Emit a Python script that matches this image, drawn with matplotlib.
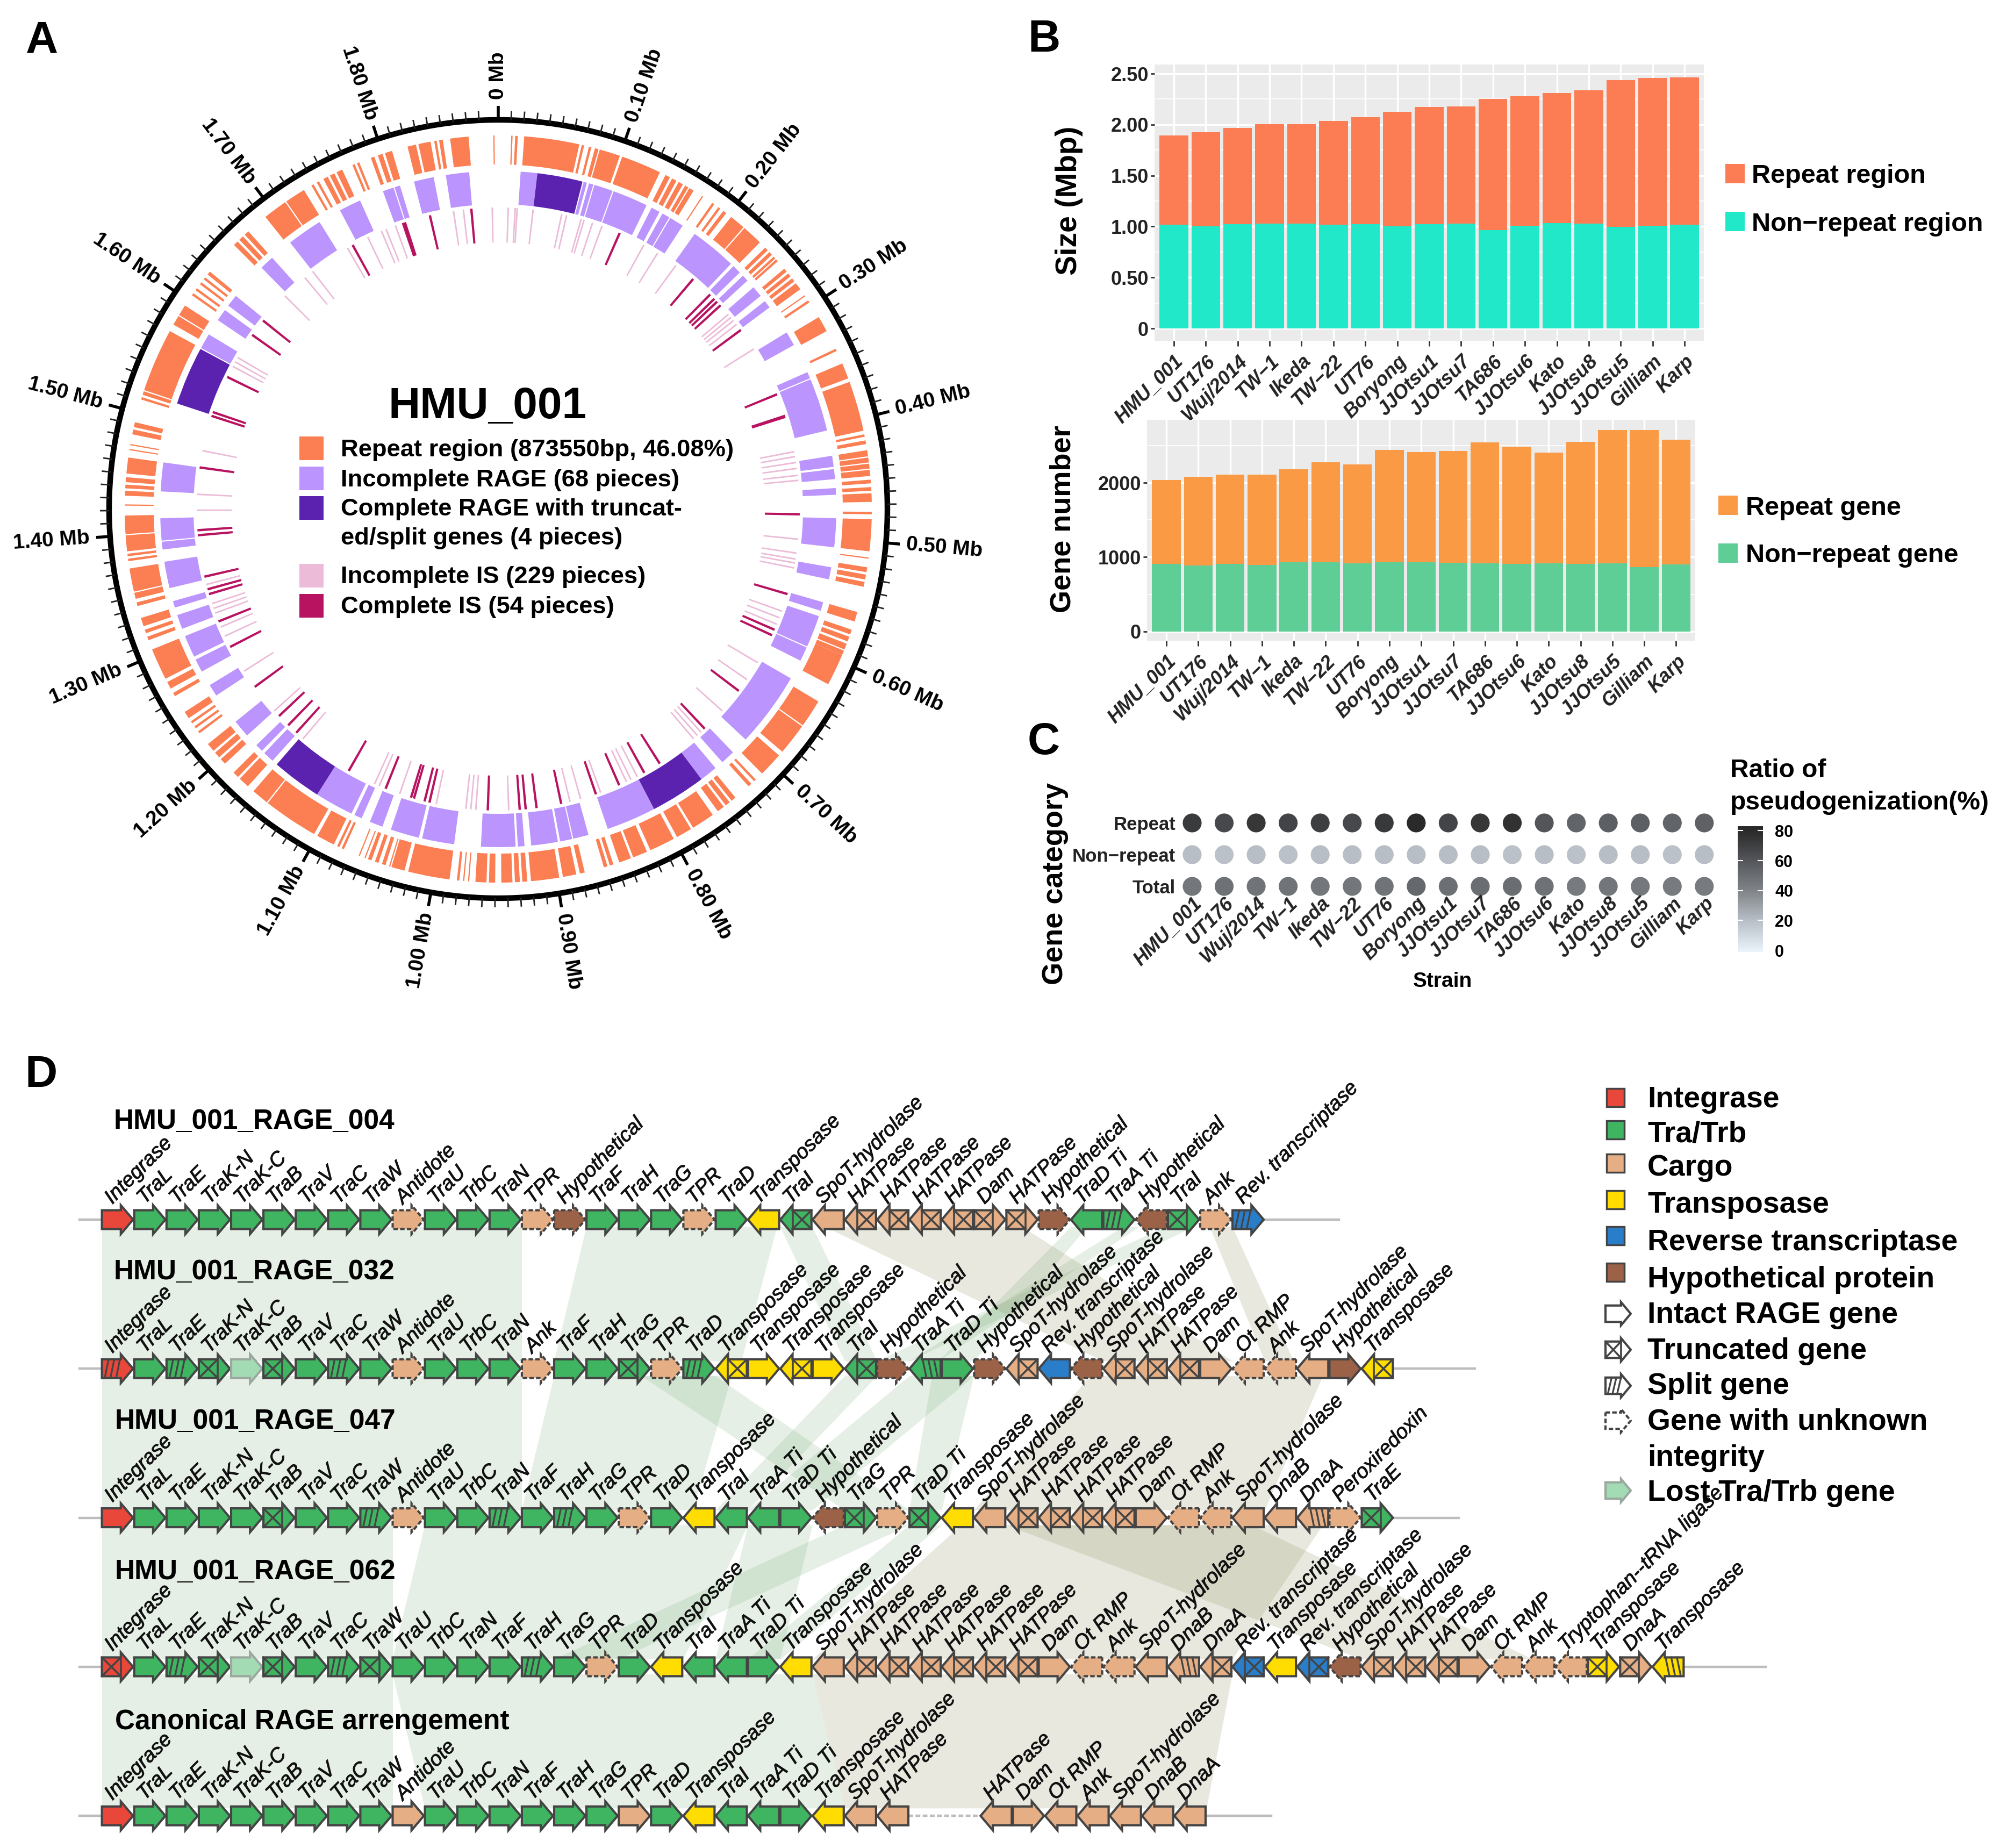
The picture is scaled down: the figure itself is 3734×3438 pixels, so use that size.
import numpy as np
import matplotlib
matplotlib.use("Agg")
import matplotlib.pyplot as plt
import matplotlib.patheffects as pe
from matplotlib.patches import Polygon, Rectangle
from matplotlib.colors import LinearSegmentedColormap, Normalize
from matplotlib.cm import ScalarMappable

plt.rcParams['font.family'] = ['Liberation Sans', 'DejaVu Sans']

W, H = 3734, 3438

# ---------- Panel A data (Mb) ----------
genome_mb = 1.895
repeat_blocks = [(.0105,.0116),(.0137,.0158),(.021,.066),(.068,.070),(.074,.076),(.079,.082),(.083,.100),(.102,.135),
 (.140,.144),(.146,.150),(.152,.156),(.158,.161),(.162,.166),(.174,.175),(.184,.186),(.190,.192),(.195,.198),
 (.203,.216),(.217,.234),(.240,.243),(.245,.248),(.250,.252),(.253,.255),(.263,.266),(.268,.271),(.273,.276),(.278,.284),
 (.290,.291),(.295,.297),(.311,.324),(.340,.342),(.353,.366),(.369,.410),(.413,.415),(.418,.421),(.426,.431),(.432,.436),
 (.437,.441),(.442,.447),(.450,.453),(.456,.459),(.461,.468),(.476,.478),(.482,.508),(.513,.514),(.521,.525),(.527,.531),
 (.533,.537),(.558,.566),(.573,.577),(.579,.583),(.585,.590),(.591,.595),(.595,.621),(.637,.660),(.661,.687),(.691,.711),
 (.718,.720),(.723,.726),(.740,.744),(.746,.750),(.752,.758),(.763,.782),(.784,.797),(.800,.821),(.824,.836),(.838,.848),
 (.853,.856),(.858,.861),(.877,.881),(.884,.895),(.898,.921),(.924,.928),(.930,.934),(.936,.945),(.950,.955),(.957,.966),
 (.971,.972),(.975,.976),(.979,.981),(.987,1.021),(1.024,1.035),(1.036,1.037),(1.040,1.043),(1.046,1.049),(1.052,1.055),
 (1.057,1.058),(1.062,1.063),(1.076,1.078),(1.080,1.082),(1.085,1.100),(1.103,1.148),(1.149,1.163),(1.169,1.178),(1.180,1.185),
 (1.195,1.200),(1.202,1.207),(1.209,1.216),(1.227,1.229),(1.232,1.234),(1.237,1.239),(1.242,1.248),(1.263,1.266),(1.270,1.276),
 (1.279,1.305),(1.313,1.316),(1.319,1.322),(1.325,1.332),(1.342,1.345),(1.348,1.353),(1.354,1.373),(1.379,1.381),(1.383,1.385),
 (1.387,1.400),(1.401,1.416),(1.424,1.425),(1.432,1.436),(1.438,1.441),(1.443,1.447),(1.450,1.463),(1.469,1.470),(1.473,1.474),
 (1.482,1.486),(1.488,1.492),(1.511,1.513),(1.515,1.518),(1.519,1.571),(1.577,1.585),(1.586,1.595),(1.605,1.607),(1.610,1.612),
 (1.616,1.618),(1.621,1.623),(1.626,1.629),(1.658,1.662),(1.664,1.668),(1.670,1.674),(1.692,1.712),(1.713,1.730),(1.737,1.739),
 (1.742,1.744),(1.748,1.752),(1.754,1.758),(1.760,1.765),(1.774,1.776),(1.778,1.780),(1.790,1.793),(1.796,1.800),(1.802,1.808),
 (1.821,1.828),(1.830,1.840),(1.843,1.845),(1.847,1.850),(1.856,1.871),(1.891,1.892)]
rage_incomplete = [(.020,.035),(.077,.080),(.082,.086),(.087,.104),(.105,.137),(.142,.150),(.153,.160),(.161,.174),(.187,.229),
 (.232,.240),(.244,.250),(.258,.268),(.274,.281),(.308,.321),(.348,.354),(.355,.403),(.426,.436),(.438,.447),(.455,.461),
 (.482,.508),(.526,.537),(.558,.566),(.571,.600),(.601,.614),(.632,.700),(.716,.729),(.737,.753),(.803,.848),(.866,.880),
 (.881,.892),(.894,.918),(.924,.930),(.932,.963),(.987,1.016),(1.019,1.045),(1.053,1.065),(1.073,1.080),(1.083,1.118),
 (1.168,1.178),(1.181,1.188),(1.200,1.216),(1.245,1.256),(1.270,1.282),(1.285,1.305),(1.312,1.325),(1.332,1.338),(1.350,1.374),
 (1.385,1.392),(1.393,1.413),(1.437,1.463),(1.571,1.585),(1.600,1.611),(1.616,1.627),(1.661,1.674),(1.695,1.727),(1.748,1.768),
 (1.790,1.800),(1.801,1.806),(1.819,1.837),(1.848,1.869)]
rage_complete = [(.035,.076),(.753,.803),(1.118,1.163),(1.517,1.570)]
is_incomplete = [1.889,.010,.017,.019,.035,.064,.069,.084,.087,.096,.106,.152,.168,.190,.262,.266,.270,.275,.305,.416,.421,.427,.433,
 .440,.445,.504,.518,.524,.528,.533,.578,.585,.592,.635,.655,.695,.725,.730,.735,.803,.810,.815,.843,.864,.875,.937,.970,.975,.980,
 1.010,1.048,1.070,1.075,1.160,1.200,1.250,1.290,1.300,1.315,1.320,1.325,1.345,1.420,1.436,1.480,1.570,1.575,1.580,1.658,1.685,
 1.695,1.737,1.760,1.775,1.780,1.790,1.850,1.860]
is_complete = [.125,.212,.235,.241,.245,.250,.282,.356,.379,.380,.479,.560,.598,.604,.669,.720,.777,.795,.823,.848,.884,.909,.920,.926,
 .958,1.017,1.022,1.033,1.036,1.063,1.104,1.169,1.180,1.193,1.231,1.278,1.306,1.335,1.340,1.353,1.395,1.400,1.463,1.516,1.520,
 1.558,1.607,1.625,1.743,1.798,1.800,1.826,1.868]

# ---------- Panels B, C data ----------
strains = ['HMU_001','UT176','Wuj/2014','TW−1','Ikeda','TW−22','UT76','Boryong','JJOtsu1','JJOtsu7','TA686','JJOtsu6','Kato','JJOtsu8','JJOtsu5','Gilliam','Karp']
size_nonrepeat = [1.018,1.00,1.023,1.027,1.031,1.018,1.023,1.00,1.023,1.027,.966,1.01,1.036,1.027,.997,1.01,1.018]
size_total = [1.892,1.923,1.967,2.002,2.002,2.037,2.072,2.124,2.172,2.177,2.251,2.277,2.312,2.338,2.439,2.456,2.465]
gene_nonrepeat = [910,886,910,898,928,934,916,928,928,922,916,910,916,910,916,868,904]
gene_total = [2036,2078,2108,2108,2180,2275,2246,2437,2413,2425,2539,2485,2407,2551,2707,2707,2575]
pseudo_repeat = [72,66,74,68,70,66,73,80,68,74,76,60,54,56,56,54,55]
pseudo_nonrepeat = [20,19,20,19,20,20,20,20,20,20,19,20,19,20,20,19,20]
pseudo_total = [46,48,47,47,46,46,47,52,49,50,50,48,44,46,45,44,44]

# ---------- Panel D data ----------
row_titles = ['HMU_001_RAGE_004','HMU_001_RAGE_032','HMU_001_RAGE_047','HMU_001_RAGE_062','Canonical RAGE arrengement']
row1_labels = ['Integrase','TraL','TraE','TraK-N','TraK-C','TraB','TraV','TraC','TraW','Antidote','TraU','TrbC','TraN','TPR','Hypothetical','TraF','TraH','TraG','TPR','TraD','Transposase','TraI','SpoT-hydrolase','HATPase','HATPase','HATPase','HATPase','Dam','HATPase','Hypothetical','TraD Ti','TraA Ti','Hypothetical','TraI','Ank','Rev. transcriptase']
row1_cat = "ITTTTTTTTCTTTCHTTTCTYTCCCCCCCHTTHTCR"
row1_state = "iiiiiiiiiuiiiuuiiiuiitittttttuisutus"
row1_dir = "++++++++++++++++++++-------+++-+-+++"
row2_labels = ['Integrase','TraL','TraE','TraK-N','TraK-C','TraB','TraV','TraC','TraW','Antidote','TraU','TrbC','TraN','Ank','TraF','TraH','TraG','TPR','TraD','Transposase','Transposase','Transposase','Transposase','TraI','Hypothetical','TraA Ti','TraD Ti','Hypothetical','SpoT-hydrolase','Rev. transcriptase','Hypothetical','SpoT-hydrolase','HATPase','HATPase','Dam','Ot RMP','Ank','SpoT-hydrolase','Hypothetical','Transposase']
row2_cat = "ITTTTTTTTCTTTCTTTCTYYYYTHTTHCRHCCCCCCCHY"
row2_state = "sistltisiuiiiuiitustititusiutiutttiuuiit"
row2_dir = "+++++++++++++++++++-+-+-+-++------+---+-"
row3_labels = ['Integrase','TraL','TraE','TraK-N','TraK-C','TraB','TraV','TraC','TraW','Antidote','TraU','TrbC','TraN','TraF','TraH','TraG','TPR','TraD','Transposase','TraI','TraA Ti','TraD Ti','Hypothetical','TraG','TPR','TraD Ti','Transposase','SpoT-hydrolase','HATPase','HATPase','HATPase','HATPase','Dam','Ot RMP','Ank','SpoT-hydrolase','DnaB','DnaA','Peroxiredoxin','TraE']
row3_cat = "ITTTTTTTTCTTTTTTCTYTTTHTCTYCCCCCCCCCCCCT"
row3_state = "iiiiitiisuiisisiuiiiiiututiittttiuuiisut"
row3_dir = "++++++++++++++++++---+-+++------+-----++"
row4_labels = ['Integrase','TraL','TraE','TraK-N','TraK-C','TraB','TraV','TraC','TraW','TraU','TrbC','TraN','TraF','TraH','TraG','TPR','TraD','Transposase','TraI','TraA Ti','TraD Ti','Transposase','SpoT-hydrolase','HATPase','HATPase','HATPase','HATPase','HATPase','HATPase','Dam','Ot RMP','Ank','SpoT-hydrolase','DnaB','DnaA','Rev. transcriptase','Transposase','Rev. transcriptase','Hypothetical','SpoT-hydrolase','HATPase','HATPase','Dam','Ot RMP','Ank','Tryptophan--tRNA ligase','Transposase','DnaA','Transposase']
row4_cat = "ITTTTTTTTTTTTTTCTYTTTYCCCCCCCCCCCCCRYRHCCCCCCCYCY"
row4_state = "tistltistiiiisiuiiiiiiittttttiuuisttitutttiuuutts"[:49]
row4_dir = "+++++++++++++++++---+--------+------------+---++-"
row5_labels = ['Integrase','TraL','TraE','TraK-N','TraK-C','TraB','TraV','TraC','TraW','Antidote','TraU','TrbC','TraN','TraF','TraH','TraG','TPR','TraD','Transposase','TraI','TraA Ti','TraD Ti','Transposase','SpoT-hydrolase','HATPase','HATPase','Dam','Ot RMP','Ank','SpoT-hydrolase','DnaB','DnaA']
row5_cat = "ITTTTTTTTCTTTTTTCTYTTTYCCCCCCCCC"
row5_state = "i"*32
row5_dir = "++++++++++++++++++---+----+-----"
row_line_end = [38.3, 42.5, 42.0, 51.5, 36.2]
row5_gap_after = 24
row5_gap_slots = 2.2

green_links = [(0,0,13,0,13),(0,15,20.9,14,19.8),(0,21,22,23,24),(0,30,30.5,25.9,27),(0,31.6,32.1,25,25.9),(0,32.9,33.8,24,25),
 (1,0,13,0,13),(1,14,19.5,13,18.3),(1,16.7,19,23,25),(1,23,24,19,20),(1,25,27,20,22),(1,25.7,27,25,26),
 (2,0,9,0,9),(2,10,20,9,18),(2,20,22,19,21),(2,23,25,14,16),(2,25,26,20,21),(3,0,9,0,9),(3,9,22,10,23)]
beige_links = [(0,22.4,28.5,31,35),(0,34.3,35,36,36.9),(1,30.6,37.8,27,36),(2,26.6,37.8,22,35),(2,28,35.6,39,44.3),(3,22,35,23,34.2)]

cat_color = {'I':'#E9473A','T':'#3FB562','C':'#E6AE84','Y':'#FFDD00','R':'#2A7DC9','H':'#9C6248'}
EDGE = '#444444'

fig = plt.figure(figsize=(W/100, H/100), dpi=100, facecolor='white')

def rect_px(x0, y0, x1, y1):
    return [x0/W, 1-y1/H, (x1-x0)/W, (y1-y0)/H]

# ---------- Panel D ----------
PITCH, ROWH = 60.1, 277.3
X0, Y0 = 189.6, 2269
axd = fig.add_axes([0,0,1,1])
axd.set_xlim(-X0/PITCH, (W-X0)/PITCH)
axd.set_ylim((H-Y0)/ROWH, -Y0/ROWH)
axd.axis('off')

for links, col in ((green_links,'#7FB07F'),(beige_links,'#8F8F60')):
    for r, a, b, c, d in links:
        axd.add_patch(Polygon([(a,r+.05),(b,r+.05),(d,r+.95),(c,r+.95)], closed=True, fc=col, ec='none', alpha=.2, zorder=1))

def gene(ax, x0, y, cat, state, d, w=.965, head=.38, b=.063, a=.097):
    x1 = x0+w
    sgn = 1 if d == '+' else -1
    base, tip, back = (x1-head, x1, x0) if sgn > 0 else (x0+head, x0, x1)
    pts = [(back,y-b),(base,y-b),(base,y-a),(tip,y),(base,y+a),(base,y+b),(back,y+b)]
    fc = cat_color.get(cat, 'white'); ec = EDGE
    ls = '-'
    if state == 'l': fc, ec = '#A3DBB5', '#9AA89E'
    if state == 'u': ls = (0,(2,1))
    ax.add_patch(Polygon(pts, closed=True, fc=fc, ec=ec, lw=3, ls=ls, joinstyle='miter', zorder=3))
    if state == 't':
        ax.plot([back,base],[y-b,y+b], color=EDGE, lw=2.6, zorder=4)
        ax.plot([back,base],[y+b,y-b], color=EDGE, lw=2.6, zorder=4)
        ax.plot([base,base],[y-b,y+b], color=EDGE, lw=2.6, zorder=4)
    if state == 's':
        L = (base-back)
        for f in (.15,.45,.75):
            xb = back+L*f
            ax.plot([xb, xb+sgn*.12],[y+b,y-b], color=EDGE, lw=2.4, zorder=4)

rows = [(row1_labels,row1_cat,row1_state,row1_dir),(row2_labels,row2_cat,row2_state,row2_dir),
        (row3_labels,row3_cat,row3_state,row3_dir),(row4_labels,row4_cat,row4_state,row4_dir),
        (row5_labels,row5_cat,row5_state,row5_dir)]
stroke = [pe.withStroke(linewidth=.7, foreground='#111')]
for r,(labs,cats,states,dirs) in enumerate(rows):
    axd.plot([-.7,row_line_end[r]],[r,r], color='#BDBDBD', lw=3.2, zorder=2)
    for i,(lab,c,s,d) in enumerate(zip(labs,cats,states,dirs,strict=True)):
        x = i
        if r == 4 and i > row5_gap_after:
            x = i+row5_gap_slots
        gene(axd, x, r, c, s, d)
        axd.text(x+.32, r-.10, lab, rotation=45, rotation_mode='anchor', ha='left', va='baseline',
                 fontsize=27.5, style='italic', color='#111', zorder=6, path_effects=stroke)
axd.plot([row5_gap_after+.97, row5_gap_after+1+row5_gap_slots],[4,4], color='white', lw=5, zorder=2.1)
axd.plot([row5_gap_after+.97, row5_gap_after+1+row5_gap_slots],[4,4], color='#BDBDBD', lw=3.2, ls=(0,(2,1)), zorder=2.2)

# ---------- overlay for legends and texts ----------
axo = fig.add_axes([0,0,1,1], facecolor='none')
axo.set_xlim(0,W); axo.set_ylim(H,0); axo.axis('off')
BF = dict(fontweight='bold', color='black', va='center')
for s,x,y in (('A',78,76),('B',1942,74),('C',1942,1381),('D',76,2000)):
    axo.text(x,y,s,fontsize=60,ha='center',**BF)

for t,(x,y) in zip(row_titles,((212,2086),(212,2366),(214,2644),(214,2925),(214,3203))):
    axo.text(x,y,t,fontsize=37,ha='left',**BF)

leg_sq = [('Integrase','I',2042,2046),('Tra/Trb','T',2102,2110),('Cargo','C',2164,2173),('Transposase','Y',2232,2242),
          ('Reverse transcriptase','R',2299,2312),('Hypothetical protein','H',2367,2381)]
for t,c,ys,yt in leg_sq:
    axo.add_patch(Rectangle((2989,ys-17),33,34,fc=cat_color[c],ec=EDGE,lw=2.5))
    axo.text(3065,yt,t,fontsize=39.8,ha='left',**BF)
leg_arrow = [('Intact RAGE gene','i',2444,2447),('Truncated gene','t',2511,2514),('Split gene','s',2578,2579),
             ('Gene with unknown','u',2643,2645),('Lost Tra/Trb gene','l',2773,2778)]
for t,s,ys,yt in leg_arrow:
    xx = (2987-X0)/PITCH; yy = (ys-Y0)/ROWH
    gene(axd, xx, yy, 'N', s, '+', w=.78, head=.3, b=.055, a=.078)
    axo.text(3065,yt,t,fontsize=39.8,ha='left',**BF)
axo.text(3065,2713,'integrity',fontsize=39.8,ha='left',**BF)

# panel A centre legend
axo.text(907,757,'HMU_001',fontsize=59,ha='center',**BF)
leg_a = [('Repeat region (873550bp, 46.08%)','#FB7F53',834,837),('Incomplete RAGE (68 pieces)','#BB95FD',890,893),
         ('Complete RAGE with truncat-','#5A22AE',945,947),('Incomplete IS (229 pieces)','#EBBBD8',1071,1073),
         ('Complete IS (54 pieces)','#B81361',1127,1129)]
for t,c,ys,yt in leg_a:
    axo.add_patch(Rectangle((557,ys-22),45,44,fc=c,ec='none'))
    axo.text(634,yt,t,fontsize=32.7,ha='left',**BF)
axo.text(634,1002,'ed/split genes (4 pieces)',fontsize=32.7,ha='left',**BF)

# ---------- Panel A ----------
R = 850
CX, CY = 927, 947
axa = fig.add_axes(rect_px(CX-R,CY-R,CX+R,CY+R), projection='polar', facecolor='none')
axa.set_theta_zero_location('N'); axa.set_theta_direction(-1)
axa.set_rlim(0,R); axa.axis('off')
def th(m): return np.asarray(m)*2*np.pi/genome_mb
def track(blocks, r0, r1, col):
    st = np.array([b[0] for b in blocks]); en = np.array([b[1] for b in blocks])
    axa.bar(th(st), r1-r0, width=th(en-st), bottom=r0, align='edge', color=col, linewidth=0)
track(repeat_blocks, 641, 695, '#FB7F53')
track(rage_incomplete, 567, 629, '#BB95FD')
track(rage_complete, 567, 629, '#5A22AE')
def lines(pos, wid, col):
    pos = np.array(pos)
    axa.bar(th(pos-wid/2), 65, width=th(np.full(len(pos),wid)), bottom=496, align='edge', color=col, linewidth=0)
lines(is_incomplete, .0016, '#EBBBD8')
lines(is_complete, .0024, '#B81361')
tt = np.linspace(0,2*np.pi,721)
axa.plot(tt, np.full(721,724), color='black', lw=7.5, solid_capstyle='butt')
minor = np.arange(0,1.89,.01)
major = np.arange(0,1.81,.1)
axa.vlines(th(minor), 724, 741, color='#222', lw=2)
axa.vlines(th(major), 724, 750, color='black', lw=4)
for m in major:
    deg = m/genome_mb*360
    lab = '0 Mb' if m == 0 else f'{m:.2f} Mb'
    if deg <= 180:
        rot, ha = 90-deg, 'left'
    else:
        rot, ha = 270-deg, 'right'
    axa.text(th(m), 762, lab, rotation=rot, rotation_mode='anchor', ha=ha, va='center', fontsize=28, fontweight='bold')

# ---------- Panel B ----------
x = np.arange(len(strains))
def style_bar(ax):
    ax.set_facecolor('#EBEBEB')
    for s in ax.spines.values(): s.set_visible(False)
    ax.grid(True, which='major', color='white', lw=2.4)
    ax.grid(True, which='minor', axis='y', color='white', lw=1.2)
    ax.set_axisbelow(True)
    ax.set_xticks(x)
    ax.set_xticklabels(strains, rotation=45, ha='right', va='top', rotation_mode='anchor', fontsize=26, style='italic', fontweight='bold', color='#222')
    ax.tick_params(axis='x', length=7, width=2, color='#333', pad=8)
    ax.tick_params(axis='y', which='major', length=5, width=2, color='#333', pad=3, labelsize=26, labelcolor='#222')
    ax.tick_params(axis='y', which='minor', length=0)
    for l in ax.get_yticklabels(): l.set_fontweight('bold')

axb = fig.add_axes(rect_px(2148,120,3170,634))
size_nonrepeat = np.array(size_nonrepeat); size_total = np.array(size_total)
axb.bar(x, size_nonrepeat, width=.9, color='#20E8C8', zorder=2)
axb.bar(x, size_total-size_nonrepeat, bottom=size_nonrepeat, width=.9, color='#FC7C54', zorder=2)
axb.set_xlim(-.606,16.606); axb.set_ylim(-.121,2.59)
axb.set_yticks([0,.5,1,1.5,2,2.5]); axb.set_yticks([.25,.75,1.25,1.75,2.25],minor=True)
axb.set_yticklabels(['0','0.50','1.00','1.50','2.00','2.50'])
style_bar(axb)

axg = fig.add_axes(rect_px(2134,781,3154,1192))
gene_nonrepeat = np.array(gene_nonrepeat); gene_total = np.array(gene_total)
axg.bar(x, gene_nonrepeat, width=.9, color='#5FCE96', zorder=2)
axg.bar(x, gene_total-gene_nonrepeat, bottom=gene_nonrepeat, width=.9, color='#FA9A45', zorder=2)
axg.set_xlim(-.608,16.6); axg.set_ylim(-123,2845)
axg.set_yticks([0,1000,2000]); axg.set_yticks([500,1500,2500],minor=True)
axg.set_yticklabels(['0','1000','2000'])
style_bar(axg)

axo.text(1989,373,'Size (Mbp)',rotation=90,fontsize=40,ha='center',**BF)
axo.text(1977,966,'Gene number',rotation=90,fontsize=39,ha='center',**BF)
for t,c,xs,ys,xt in (('Repeat region','#FC7C54',3210,323,3259),('Non−repeat region','#20E8C8',3210,412,3259),
                     ('Repeat gene','#FA9A45',3197,940,3248),('Non−repeat gene','#5FCE96',3197,1029,3248)):
    axo.add_patch(Rectangle((xs,ys-18),36,36,fc=c,ec='none'))
    axo.text(xt,ys+5,t,fontsize=35,ha='left',**BF)

# ---------- Panel C ----------
cmap = LinearSegmentedColormap.from_list('pseudo',[(0,'#EBF3FB'),(.25,'#B7BEC6'),(.5,'#808488'),(.75,'#54565A'),(1,'#2A2A2A')])
norm = Normalize(0,80)
axc = fig.add_axes(rect_px(2190,1500,3200,1680), facecolor='none')
for yy,vals in ((2,pseudo_repeat),(1,pseudo_nonrepeat),(0,pseudo_total)):
    axc.scatter(x, np.full(len(x),yy), c=vals, cmap=cmap, norm=norm, s=640, linewidths=0)
axc.set_xlim(-.47,16.49); axc.set_ylim(-.525,2.525)
for s in axc.spines.values(): s.set_visible(False)
axc.set_yticks([0,1,2]); axc.set_yticklabels(['Total','Non−repeat','Repeat'],fontsize=25,fontweight='bold',color='#222')
axc.set_xticks(x); axc.set_xticklabels(strains, rotation=45, ha='right', va='top', rotation_mode='anchor', fontsize=26, style='italic', fontweight='bold', color='#222')
axc.tick_params(length=0, pad=2)
axc.tick_params(axis='x', pad=-12)
axo.text(2684,1826,'Strain',fontsize=28,ha='center',**BF)
axo.text(1963,1644,'Gene category',rotation=90,fontsize=39,ha='center',**BF)
axo.text(3219,1434,'Ratio of',fontsize=34.5,ha='left',**BF)
axo.text(3219,1493,'pseudogenization(%)',fontsize=34.5,ha='left',**BF)
cax = fig.add_axes(rect_px(3233,1537,3280,1771))
cb = fig.colorbar(ScalarMappable(Normalize(-1,83),LinearSegmentedColormap.from_list('p2',[(0,'#EBF3FB'),(21/84,'#B7BEC6'),(41/84,'#808488'),(61/84,'#54565A'),(81/84,'#2A2A2A'),(1,'#2A2A2A')])),cax=cax,ticks=[0,20,40,60,80])
cb.outline.set_visible(False)
cb.ax.tick_params(length=0,labelsize=22,pad=16)
for l in cb.ax.get_yticklabels(): l.set_fontweight('bold')
for v in (20,40,60,80):
    cb.ax.plot([0,.2],[v,v],color='white',lw=1.5,transform=cb.ax.get_yaxis_transform())
    cb.ax.plot([.8,1],[v,v],color='white',lw=1.5,transform=cb.ax.get_yaxis_transform())

fig.savefig('out.png', dpi=100, facecolor='white')
